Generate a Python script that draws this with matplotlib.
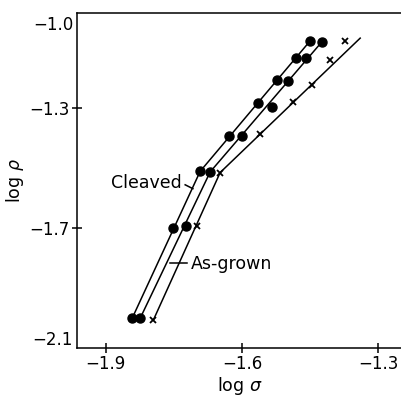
import matplotlib
matplotlib.use('Agg')
import matplotlib.pyplot as plt
import matplotlib.transforms as mtransforms

# points (log sigma, log rho)
cleaved_x = [-1.841, -1.752, -1.692, -1.628, -1.565, -1.523, -1.481, -1.450]
cleaved_y = [-2.000, -1.700, -1.511, -1.392, -1.283, -1.206, -1.133, -1.075]

middle_x = [-1.824, -1.724, -1.670, -1.599, -1.534, -1.498, -1.459, -1.424]
middle_y = [-2.002, -1.695, -1.513, -1.392, -1.295, -1.208, -1.133, -1.078]

grown_x = [-1.795, -1.698, -1.648, -1.560, -1.487, -1.445, -1.406, -1.374]
grown_y = [-2.008, -1.695, -1.515, -1.386, -1.278, -1.222, -1.139, -1.075]

# fitted lines: bottom, kink, top
cleaved_fit_x = [-1.841, -1.692, -1.450]
cleaved_fit_y = [-2.000, -1.511, -1.075]
middle_fit_x = [-1.824, -1.670, -1.424]
middle_fit_y = [-2.002, -1.513, -1.078]
grown_fit_x = [-1.795, -1.648, -1.340]
grown_fit_y = [-2.008, -1.515, -1.066]

xticks = [-1.9, -1.6, -1.3]
yticks = [-1.3, -1.7]
corner_labels = ['\u22121.0', '\u22122.1']   # drawn without tick marks
corner_pos = [-1.023, -2.073]

fig = plt.figure(figsize=(4.02, 4.00), dpi=100)
ax = fig.add_axes([0.1915, 0.131, 0.8085, 0.8365])

for fx, fy in [(cleaved_fit_x, cleaved_fit_y), (middle_fit_x, middle_fit_y),
               (grown_fit_x, grown_fit_y)]:
    ax.plot(fx, fy, color='black', lw=1.1)

ax.plot(cleaved_x, cleaved_y, 'o', color='black', ms=6.5)
ax.plot(middle_x, middle_y, 'o', color='black', ms=6.5)
ax.plot(grown_x, grown_y, 'x', color='black', ms=4.5, mew=1.3)

# labels with short leader lines
ax.text(-1.811, -1.550, 'Cleaved', fontsize=12.5, ha='center', va='center')
ax.plot([-1.725, -1.708], [-1.556, -1.569], color='black', lw=1.1)
ax.text(-1.624, -1.819, 'As-grown', fontsize=12.5, ha='center', va='center')
ax.plot([-1.758, -1.721], [-1.816, -1.816], color='black', lw=1.1)

ax.set_xlim(-1.963, -1.248)
ax.set_ylim(-2.1, -0.982)
ax.set_xticks(xticks)
ax.set_xticklabels(['\u22121.9', '\u22121.6', '\u22121.3'])
ax.set_yticks(yticks)
ax.set_yticklabels(['\u22121.3', '\u22121.7'])
ax.tick_params(direction='inout', length=7, width=1.1, labelsize=12, pad=2)

trans = mtransforms.blended_transform_factory(ax.transAxes, ax.transData)
for lab, yp in zip(corner_labels, corner_pos):
    ax.text(-0.012, yp, lab, fontsize=12, ha='right', va='center', transform=trans)

ax.spines['right'].set_visible(False)
for s in ['left', 'bottom', 'top']:
    ax.spines[s].set_linewidth(1.1)

ax.set_xlabel(r'log $\sigma$', fontsize=12.5, labelpad=1)
ax.set_ylabel(r'log $\rho$', fontsize=12.5, labelpad=2)

fig.savefig('out.png', dpi=100)
